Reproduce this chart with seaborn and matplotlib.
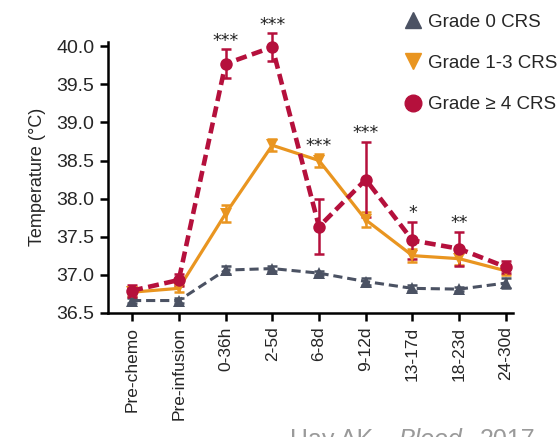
import numpy as np
import pandas as pd
import matplotlib
matplotlib.use("Agg")
import matplotlib.pyplot as plt
from matplotlib.lines import Line2D
import seaborn as sns

# dados
tempos = ["Pre-chemo", "Pre-infusion", "0-36h", "2-5d", "6-8d",
          "9-12d", "13-17d", "18-23d", "24-30d"]

grau0 = [36.66, 36.66, 37.06, 37.08, 37.02, 36.91, 36.82, 36.81, 36.89]
grau0_err = [0.03, 0.03, 0.05, 0.03, 0.03, 0.05, 0.04, 0.03, 0.06]

grau13 = [36.77, 36.82, 37.80, 38.70, 38.50, 37.72, 37.25, 37.21, 37.05]
grau13_err = [0.05, 0.05, 0.11, 0.08, 0.08, 0.10, 0.09, 0.08, 0.05]

grau4 = [36.79, 36.93, 39.77, 39.99, 37.63, 38.25, 37.45, 37.34, 37.10]
grau4_err = [0.08, 0.08, 0.19, 0.18, 0.36, 0.49, 0.24, 0.22, 0.08]

estrelas = ["", "", "***", "***", "***", "***", "*", "**", ""]

cinza = "#4b5263"
laranja = "#e99520"
vermelho = "#b5103c"

sns.set_style("ticks")
plt.rcParams["font.family"] = ["Liberation Sans", "DejaVu Sans"]

fig = plt.figure(figsize=(5.57, 4.37), dpi=100)
ax = fig.add_axes([0.194, 0.2844, 0.727, 0.620])

x = np.arange(len(tempos))
df = pd.DataFrame({"x": x, "g0": grau0, "g13": grau13, "g4": grau4})

series = [
    ("g0", grau0, grau0_err, cinza, "^", (0, (3, 1.6)), 2.2, 8),
    ("g13", grau13, grau13_err, laranja, "v", "-", 2.3, 8),
    ("g4", grau4, grau4_err, vermelho, "o", (0, (2.4, 1.2)), 3.3, 9),
]

for col, vals, errs, cor, mk, ls, lw, ms in series:
    ax.errorbar(x, vals, yerr=errs, fmt="none", ecolor=cor, elinewidth=1.8,
                capsize=3.5, capthick=1.8, clip_on=False, zorder=3)
    sns.lineplot(data=df, x="x", y=col, color=cor, linestyle=ls, linewidth=lw,
                 marker=mk, markersize=ms, markeredgewidth=0, ax=ax,
                 zorder=4, clip_on=False)

# estrelas de significância
for i, s in enumerate(estrelas):
    if s:
        topo = grau4[i] + grau4_err[i]
        if i == 4:
            topo = grau13[i] + grau13_err[i]
        ax.text(i, topo + 0.05, s, ha="center", va="baseline", fontsize=12.5,
                color="#222222", family="DejaVu Sans")

ax.set_xlim(-0.513, 8.15)
ax.set_ylim(36.5, 40.06)
ax.set_yticks(np.arange(36.5, 40.01, 0.5))
ax.set_yticklabels([f"{v:.1f}" for v in np.arange(36.5, 40.01, 0.5)], fontsize=14)
ax.set_xticks(x)
ax.set_xticklabels(tempos, rotation=90, fontsize=12.5)
ax.set_xlabel("")
ax.set_ylabel("Temperature (°C)", fontsize=13, labelpad=7)
ax.tick_params(axis="both", length=6, width=1.8, color="black", pad=4)
for lado in ["left", "bottom"]:
    ax.spines[lado].set_linewidth(1.8)
    ax.spines[lado].set_color("black")
sns.despine(ax=ax)

handles = [
    Line2D([], [], color=cinza, marker="^", linestyle="none", markersize=12),
    Line2D([], [], color=laranja, marker="v", linestyle="none", markersize=12),
    Line2D([], [], color=vermelho, marker="o", linestyle="none", markersize=12),
]
fig.legend(handles, ["Grade 0 CRS", "Grade 1-3 CRS", "Grade \u2265 4 CRS"],
           loc="upper left", bbox_to_anchor=(0.691, 1.008), frameon=False,
           fontsize=13.5, handletextpad=0.2, labelspacing=1.29, handlelength=1.2)

# legenda da fonte, cortada embaixo
cap = dict(ha="left", va="center", fontsize=18, color="#9a9a9a")
fig.text(290 / 557, -0.008, "Hay AK,", **cap)
fig.text(398 / 557, -0.008, "Blood", style="italic", **cap)
fig.text(480 / 557, -0.008, "2017", **cap)

fig.savefig("out.png", dpi=100, facecolor="white")
